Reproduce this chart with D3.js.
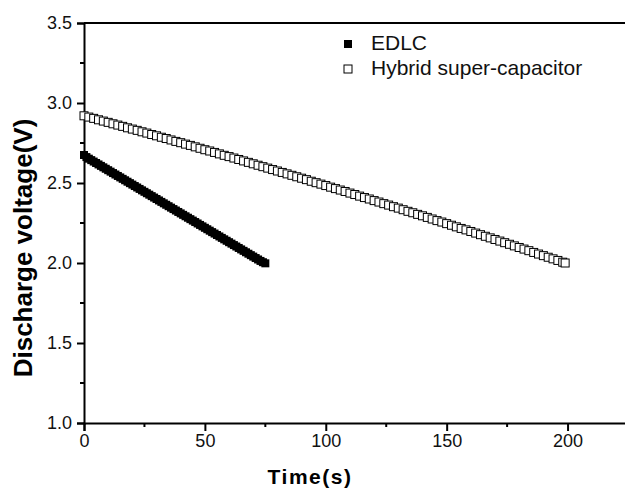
<!DOCTYPE html>
<html>
<head>
<meta charset="utf-8">
<script src="https://cdn.jsdelivr.net/npm/d3@7"></script>
<style>
  body { margin: 0; background: #fff; }
  svg { display: block; font-family: "Liberation Sans", Arial, sans-serif; }
</style>
</head>
<body>
<div id="chart"></div>
<script>
// EDLC discharge (time in s, voltage in V)
const edlcTime = [0,1,2,3,4,5,6,7,8,9,10,11,12,13,14,15,16,17,18,19,20,21,22,23,24,25,26,27,28,29,30,31,32,33,34,35,36,37,38,39,40,41,42,43,44,45,46,47,48,49,50,51,52,53,54,55,56,57,58,59,60,61,62,63,64,65,66,67,68,69,70,71,72,73,74,75];
const edlcVolt = [2.675,2.662,2.652,2.643,2.634,2.625,2.616,2.607,2.598,2.589,2.580,2.571,2.562,2.553,2.544,2.535,2.526,2.517,2.508,2.499,2.490,2.481,2.472,2.463,2.454,2.445,2.436,2.427,2.418,2.409,2.400,2.391,2.382,2.373,2.364,2.355,2.346,2.337,2.328,2.319,2.310,2.301,2.292,2.283,2.274,2.265,2.256,2.247,2.238,2.229,2.220,2.211,2.202,2.193,2.184,2.175,2.166,2.157,2.148,2.139,2.130,2.121,2.112,2.103,2.094,2.085,2.076,2.067,2.058,2.049,2.040,2.031,2.022,2.013,2.005,1.998];

// Hybrid super-capacitor discharge
const hybridTime = [0,2,4,6,8,10,12,14,16,18,20,22,24,26,28,30,32,34,36,38,40,42,44,46,48,50,52,54,56,58,60,62,64,66,68,70,72,74,76,78,80,82,84,86,88,90,92,94,96,98,100,102,104,106,108,110,112,114,116,118,120,122,124,126,128,130,132,134,136,138,140,142,144,146,148,150,152,154,156,158,160,162,164,166,168,170,172,174,176,178,180,182,184,186,188,190,192,194,196,198,199];
const hybridVolt = [2.920,2.912,2.904,2.895,2.887,2.879,2.870,2.862,2.854,2.845,2.837,2.829,2.820,2.812,2.803,2.795,2.786,2.778,2.769,2.760,2.752,2.743,2.735,2.726,2.717,2.708,2.700,2.691,2.682,2.673,2.665,2.656,2.647,2.638,2.629,2.620,2.611,2.602,2.593,2.584,2.575,2.566,2.557,2.548,2.539,2.530,2.521,2.511,2.502,2.493,2.484,2.474,2.465,2.456,2.447,2.437,2.428,2.418,2.409,2.400,2.390,2.381,2.371,2.362,2.352,2.343,2.333,2.323,2.314,2.304,2.295,2.285,2.275,2.265,2.256,2.246,2.236,2.226,2.216,2.207,2.197,2.187,2.177,2.167,2.157,2.147,2.137,2.127,2.117,2.107,2.097,2.087,2.077,2.066,2.056,2.046,2.036,2.026,2.016,2.005,2.000];

const xTicks = [0, 50, 100, 150, 200];
const xMinor = [25, 75, 125, 175, 225];
const yTicks = [1.0, 1.5, 2.0, 2.5, 3.0, 3.5];
const yMinor = [1.25, 1.75, 2.25, 2.75, 3.25];
const seriesNames = ["EDLC", "Hybrid super-capacitor"];

const width = 625, height = 490;
const margin = { top: 23, left: 84, right: -3, bottom: 67 };
const innerW = width - margin.left - margin.right;
const innerH = height - margin.top - margin.bottom;

const svg = d3.select("#chart").append("svg")
    .attr("width", width)
    .attr("height", height);

const g = svg.append("g").attr("transform", `translate(${margin.left},${margin.top})`);

const x = d3.scaleLinear().domain([0, 225]).range([0, innerW]);
const y = d3.scaleLinear().domain([1.0, 3.5]).range([innerH, 0]);

// Frame (top + right)
g.append("line").attr("x1", 0).attr("x2", innerW).attr("y1", 0).attr("y2", 0)
    .attr("stroke", "#000").attr("stroke-width", 2);
g.append("line").attr("x1", innerW).attr("x2", innerW).attr("y1", 0).attr("y2", innerH)
    .attr("stroke", "#000").attr("stroke-width", 2);

// Axes
const xAxisG = g.append("g").attr("transform", `translate(0,${innerH})`)
    .call(d3.axisBottom(x).tickValues(xTicks).tickSize(8).tickPadding(3).tickFormat(d3.format("d")));
xAxisG.append("g").selectAll("line").data(xMinor).join("line")
    .attr("x1", d => x(d)).attr("x2", d => x(d)).attr("y1", 0).attr("y2", 4)
    .attr("stroke", "#000").attr("stroke-width", 2);

const yAxisG = g.append("g")
    .call(d3.axisLeft(y).tickValues(yTicks).tickSize(7).tickPadding(5).tickFormat(d3.format(".1f")));
yAxisG.append("g").selectAll("line").data(yMinor).join("line")
    .attr("x1", 0).attr("x2", -4).attr("y1", d => y(d)).attr("y2", d => y(d))
    .attr("stroke", "#000").attr("stroke-width", 2);

[xAxisG, yAxisG].forEach(a => {
    a.attr("font-size", 18).attr("font-family", "'Liberation Sans', Arial, sans-serif");
    a.select(".domain").attr("stroke-width", 2);
    a.selectAll(".tick line").attr("stroke-width", 2);
    a.selectAll(".tick text").attr("fill", "#111");
});

// Axis titles
g.append("text")
    .attr("x", 226).attr("y", innerH + 61)
    .attr("text-anchor", "middle")
    .attr("font-size", 21).attr("font-weight", "bold")
    .attr("letter-spacing", 1.5)
    .text("Time(s)");

g.append("text")
    .attr("transform", `translate(${-52},${248 - margin.top})rotate(-90)`)
    .attr("text-anchor", "middle")
    .attr("font-size", 26).attr("font-weight", "bold")
    .text("Discharge voltage(V)");

// Markers
const sq = 8;
const edlc = edlcTime.map((t, i) => ({ t, v: edlcVolt[i] }));
const hybrid = hybridTime.map((t, i) => ({ t, v: hybridVolt[i] }));

g.append("g").selectAll("rect").data(hybrid).join("rect")
    .attr("x", d => x(d.t) - sq / 2).attr("y", d => y(d.v) - sq / 2)
    .attr("width", sq).attr("height", sq)
    .attr("fill", "#fff").attr("stroke", "#000").attr("stroke-width", 1);

g.append("g").selectAll("rect").data(edlc).join("rect")
    .attr("x", d => x(d.t) - sq / 2).attr("y", d => y(d.v) - sq / 2)
    .attr("width", sq).attr("height", sq)
    .attr("fill", "#000");

// Legend
const legend = svg.append("g").attr("transform", "translate(348,44)");
legend.append("rect").attr("x", -4).attr("y", -4).attr("width", 8).attr("height", 8).attr("fill", "#000");
legend.append("rect").attr("x", -4).attr("y", 21).attr("width", 8).attr("height", 8)
    .attr("fill", "#fff").attr("stroke", "#000").attr("stroke-width", 1);
legend.selectAll("text").data(seriesNames).join("text")
    .attr("x", 23).attr("y", (d, i) => 6 + i * 25)
    .attr("font-size", 21).attr("fill", "#111")
    .text(d => d);
</script>
</body>
</html>
